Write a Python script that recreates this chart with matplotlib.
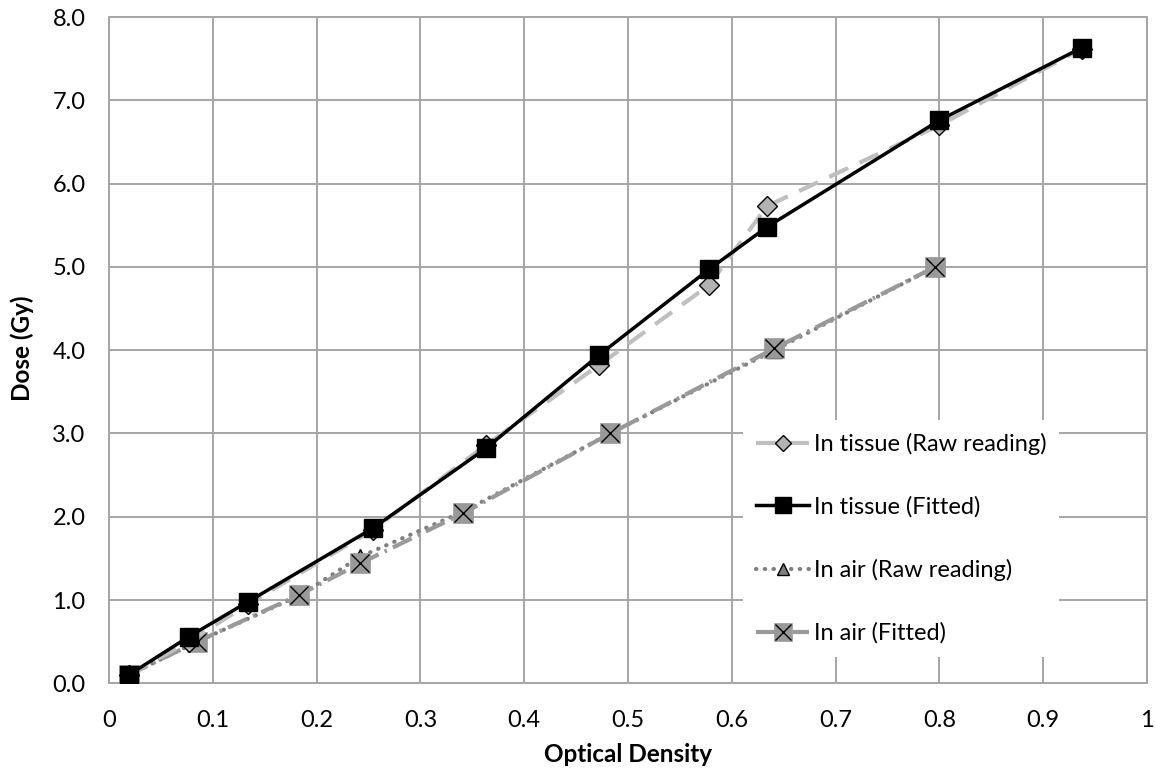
import matplotlib
matplotlib.use('Agg')
import matplotlib.pyplot as plt
from matplotlib.legend_handler import HandlerTuple

plt.rcParams['font.family'] = ['Lato', 'DejaVu Sans']

# Data
od_tissue = [0.019, 0.077, 0.134, 0.254, 0.363, 0.472, 0.578, 0.634, 0.800, 0.937]
dose_tissue_raw = [0.10, 0.50, 0.95, 1.84, 2.86, 3.82, 4.78, 5.73, 6.70, 7.62]
dose_tissue_fit = [0.10, 0.56, 0.98, 1.86, 2.82, 3.94, 4.97, 5.48, 6.76, 7.63]

od_air = [0.019, 0.085, 0.183, 0.242, 0.341, 0.483, 0.641, 0.796]
dose_air_raw = [0.10, 0.50, 1.05, 1.52, 2.06, 3.00, 4.00, 5.00]
dose_air_fit = [0.10, 0.50, 1.06, 1.44, 2.04, 3.00, 4.02, 5.00]

x_ticks = [0, 0.1, 0.2, 0.3, 0.4, 0.5, 0.6, 0.7, 0.8, 0.9, 1.0]
x_labels = ['0', '0.1', '0.2', '0.3', '0.4', '0.5', '0.6', '0.7', '0.8', '0.9', '1']
y_ticks = [0, 1, 2, 3, 4, 5, 6, 7, 8]

fig = plt.figure(figsize=(11.55, 7.72), dpi=100)
ax = fig.add_axes([109 / 1155, 1 - 683.3 / 772, 1038 / 1155, 666.3 / 772])

grid_c = '#a6a6a6'

# In air (Raw reading)
air_raw, = ax.plot(od_air, dose_air_raw, color='#7f7f7f', lw=3,
                   linestyle=(0, (0.1, 2.0)), dash_capstyle='round',
                   marker='^', ms=11, mfc='#7f7f7f', mec='black', mew=1,
                   zorder=3)
# In air (Fitted): gray square with an X on top
air_fit, = ax.plot(od_air, dose_air_fit, color='#999999', lw=3,
                   linestyle=(0, (5, 1.6, 0.6, 1.6)),
                   marker='s', ms=15, mfc='#999999', mec='#999999', mew=0.5,
                   zorder=4)
air_x, = ax.plot(od_air, dose_air_fit, linestyle='none', marker='x', ms=13,
                 mec='black', mew=1, zorder=5)
# In tissue (Raw reading)
tis_raw, = ax.plot(od_tissue, dose_tissue_raw, color='#bfbfbf', lw=3,
                   linestyle=(0, (5, 3)),
                   marker='D', ms=10, mfc='#b3b3b3', mec='black', mew=1,
                   zorder=6)
# In tissue (Fitted)
tis_fit, = ax.plot(od_tissue, dose_tissue_fit, color='black', lw=2.5,
                   marker='s', ms=13, mfc='black', mec='black',
                   zorder=7)

ax.set_xlim(0, 1)
ax.set_ylim(0, 8)
ax.set_xticks(x_ticks)
ax.set_xticklabels(x_labels)
ax.set_yticks(y_ticks)
ax.set_yticklabels(['%.1f' % v for v in y_ticks])
ax.tick_params(length=0, labelsize=17, colors='black')
ax.tick_params(axis='x', pad=19)
ax.tick_params(axis='y', pad=17)
ax.grid(True, color=grid_c, lw=1.4)
ax.set_axisbelow(True)
for s in ax.spines.values():
    s.set_color(grid_c)
    s.set_linewidth(1.4)

ax.set_xlabel('Optical Density', fontsize=17.5, fontweight='bold', va='center')
ax.set_ylabel('Dose (Gy)', fontsize=17.5, fontweight='bold', va='center')
ax.xaxis.set_label_coords(0.5, -0.1076)
ax.yaxis.set_label_coords(-0.0838, 0.503)

leg = ax.legend([tis_raw, tis_fit, air_raw, (air_fit, air_x)],
                ['In tissue (Raw reading)', 'In tissue (Fitted)',
                 'In air (Raw reading)', 'In air (Fitted)'],
                handler_map={tuple: HandlerTuple(ndivide=1)},
                loc='upper left', bbox_to_anchor=(0.611, 0.3955),
                fontsize=17, frameon=True, fancybox=False,
                facecolor='white', edgecolor='none', framealpha=1,
                labelspacing=1.75, handlelength=2.25, handletextpad=0.18,
                borderpad=0.55, borderaxespad=0, markerscale=0.85)
leg.set_zorder(10)

fig.savefig('out.png', dpi=100)
